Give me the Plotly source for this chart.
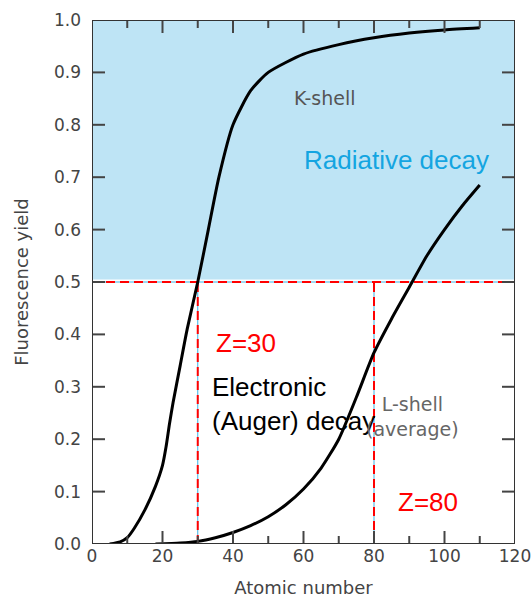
import plotly.graph_objects as go

# Data
k_z = [5, 8, 10, 12, 15, 18, 20, 21, 22, 23, 25, 27, 30, 33, 36, 40, 45, 50, 60, 70, 80, 90, 100, 110]
k_yield = [0, 0.004, 0.012, 0.03, 0.065, 0.11, 0.15, 0.185, 0.23, 0.27, 0.34, 0.41, 0.5, 0.6, 0.7, 0.8,
           0.865, 0.9, 0.935, 0.953, 0.966, 0.975, 0.981, 0.985]
l_z = [18, 25, 30, 35, 40, 45, 50, 55, 60, 65, 70, 75, 80, 85, 90, 95, 100, 105, 110]
l_yield = [0, 0.002, 0.005, 0.012, 0.022, 0.035, 0.052, 0.075, 0.105, 0.145, 0.2, 0.28, 0.365, 0.43,
           0.49, 0.55, 0.6, 0.645, 0.685]
threshold = 0.5
z_marks = [30, 80]
x_range = [0, 120]
y_range = [0, 1.0]
x_major = [0, 20, 40, 60, 80, 100, 120]
x_minor = [10, 30, 50, 70, 90, 110]
y_ticks = [0, 0.1, 0.2, 0.3, 0.4, 0.5, 0.6, 0.7, 0.8, 0.9, 1.0]

W, H = 531, 603
M = dict(l=92, r=16, t=20, b=59)
px_x = (x_range[1] - x_range[0]) / (W - M["l"] - M["r"])   # data units per pixel
px_y = (y_range[1] - y_range[0]) / (H - M["t"] - M["b"])

fig = go.Figure()

# Radiative region as a filled trace
fig.add_trace(go.Scatter(x=[x_range[0], x_range[1], x_range[1], x_range[0]],
                         y=[threshold + 0.005, threshold + 0.005, y_range[1], y_range[1]],
                         mode="lines", fill="toself", fillcolor="rgb(190,228,245)", line=dict(width=0),
                         hoverinfo="skip"))

for col, w, dash in [("rgb(60,180,230)", 1, "solid"), ("red", 2, "9px,5px")]:
    fig.add_trace(go.Scatter(x=[x_range[0], x_range[1]], y=[threshold, threshold], mode="lines",
                             line=dict(color=col, width=w, dash=dash)))
    for z in z_marks:
        fig.add_trace(go.Scatter(x=[z, z], y=[0, threshold], mode="lines",
                                 line=dict(color=col, width=w, dash=dash)))

fig.add_trace(go.Scatter(x=k_z, y=k_yield, mode="lines", line=dict(color="black", width=3, shape="spline", smoothing=0.6)))
fig.add_trace(go.Scatter(x=l_z, y=l_yield, mode="lines", line=dict(color="black", width=3, shape="spline", smoothing=0.6)))

# Inside ticks built from the tick lists (as line traces)
tx, ty = [], []
for ticks, length in [(x_major, 13), (x_minor, 8)]:
    for t in ticks:
        tx += [t, t, None, t, t, None]
        ty += [y_range[0], y_range[0] + length * px_y, None, y_range[1], y_range[1] - length * px_y, None]
for t in y_ticks:
    tx += [x_range[0], x_range[0] + 13 * px_x, None, x_range[1], x_range[1] - 13 * px_x, None]
    ty += [t, t, None, t, t, None]
fig.add_trace(go.Scatter(x=tx, y=ty, mode="lines", line=dict(color="#444", width=2), cliponaxis=False,
                         hoverinfo="skip"))

# Frame
fig.add_trace(go.Scatter(x=[x_range[0], x_range[1], x_range[1], x_range[0], x_range[0]],
                         y=[y_range[0], y_range[0], y_range[1], y_range[1], y_range[0]],
                         mode="lines", line=dict(color="#333", width=2), cliponaxis=False, hoverinfo="skip"))

ann_font = "Liberation Sans, Arial, sans-serif"
fig.add_annotation(x=66, y=0.851, text="K-shell", showarrow=False, font=dict(family="DejaVu Sans", size=19, color="#555"))
fig.add_annotation(x=86.5, y=0.733, text="Radiative decay", showarrow=False, font=dict(family=ann_font, size=26, color="rgb(20,165,225)"))
fig.add_annotation(x=43.7, y=0.384, text="Z=30", showarrow=False, font=dict(family=ann_font, size=26, color="red"))
fig.add_annotation(x=33.5, y=0.267, text="Electronic<br>(Auger) decay", showarrow=False, xanchor="left", align="left",
                   font=dict(family=ann_font, size=26, color="black"))
fig.add_annotation(x=90.8, y=0.244, text="L-shell<br>(average)", showarrow=False, align="center",
                   font=dict(family="DejaVu Sans", size=19, color="#666"))
fig.add_annotation(x=95.3, y=0.08, text="Z=80", showarrow=False, font=dict(family=ann_font, size=26, color="red"))

tick_font = dict(family="DejaVu Sans", size=17, color="#444")
fig.update_xaxes(range=x_range, tickvals=x_major, showline=False, ticks="", showgrid=False, zeroline=False,
                 ticklabeloverflow="allow", tickfont=tick_font, automargin=False,
                 title=dict(text="Atomic number", font=dict(family="DejaVu Sans", size=18, color="#444"), standoff=16))
fig.update_yaxes(range=y_range, tickvals=y_ticks, tickformat=".1f", showline=False, ticks="", showgrid=False,
                 ticklabelstandoff=10, zeroline=False, tickfont=tick_font, automargin=False,
                 title=dict(text="Fluorescence yield", font=dict(family="DejaVu Sans", size=18, color="#444"), standoff=20))

fig.update_layout(width=W, height=H, margin=M, showlegend=False,
                  plot_bgcolor="white", paper_bgcolor="white")

fig.write_html("out.html")
